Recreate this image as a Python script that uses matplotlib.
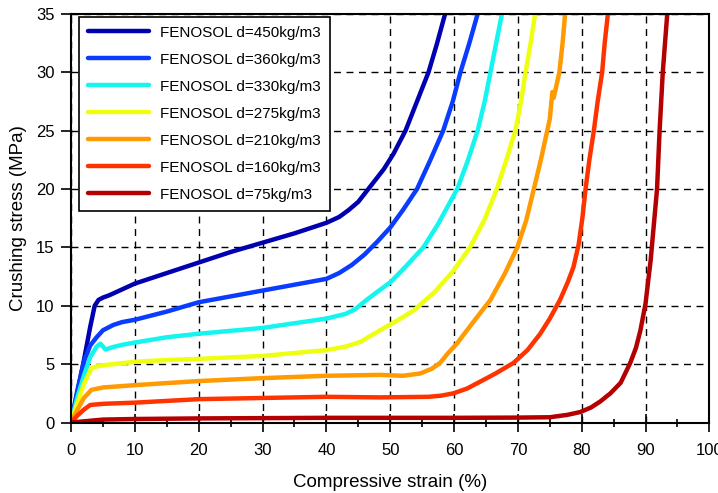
import matplotlib
matplotlib.use('Agg')
import matplotlib.pyplot as plt
from matplotlib.ticker import MultipleLocator

plt.rcParams['font.family'] = ['Liberation Sans', 'DejaVu Sans']

# strain (%) / stress (MPa)
x450 = [0, 1, 2, 3, 3.7, 4.3, 5, 6, 8, 10, 15, 20, 25, 30, 35, 40, 42, 43.5, 45, 47, 49, 50.5,
        52.4, 54.2, 56.0, 57.3, 58.6]
y450 = [0, 2.6, 5.3, 8.2, 10.0, 10.5, 10.7, 10.9, 11.4, 11.9, 12.8, 13.7, 14.6, 15.4, 16.2, 17.1,
        17.6, 18.2, 18.9, 20.3, 21.7, 23.0, 25.0, 27.5, 30.0, 32.4, 35.0]

x360 = [0, 1, 2, 3, 4, 5, 6.6, 8, 10, 15, 20, 25, 30, 35, 40, 42, 44, 46, 48, 50, 52, 54.2, 56.3,
        58.3, 59.8, 61.0, 62.4, 63.7]
y360 = [0, 2.8, 5.2, 6.6, 7.3, 7.9, 8.35, 8.6, 8.8, 9.5, 10.3, 10.8, 11.3, 11.8, 12.3, 12.8, 13.5,
        14.4, 15.5, 16.7, 18.2, 20.0, 22.5, 25.0, 27.5, 30.0, 32.5, 35.0]

x330 = [0, 1, 2, 3, 4, 4.6, 5.4, 6.5, 8, 10, 15, 20, 25, 30, 35, 40, 43, 44.5, 46.3, 48, 50, 52.5,
        55.2, 57.5, 60.5, 62.2, 63.7, 64.8, 65.7, 66.6, 67.5]
y330 = [0, 2.2, 4.0, 5.6, 6.5, 6.75, 6.25, 6.45, 6.65, 6.85, 7.3, 7.6, 7.85, 8.1, 8.5, 8.9, 9.3,
        9.7, 10.5, 11.2, 12.0, 13.4, 15.0, 17.0, 20.0, 22.5, 25.0, 27.5, 30.0, 32.5, 35.0]

x275 = [0, 1, 2, 3.2, 4, 5, 10, 15, 20, 30, 40, 43, 45.3, 48.4, 51, 53.7, 57, 59.9, 62.5, 64.8,
        66.7, 68.2, 69.6, 70.5, 71.2, 72.0, 72.7]
y275 = [0, 1.7, 3.3, 4.65, 4.8, 4.9, 5.2, 5.35, 5.45, 5.7, 6.2, 6.5, 6.9, 7.9, 8.7, 9.6, 11.2,
        13.0, 15.0, 17.4, 20.0, 22.5, 25.0, 27.5, 30.0, 32.5, 35.0]

x210 = [0, 1, 2, 3.2, 5, 10, 20, 30, 40, 48.4, 52, 54.7, 56.5, 57.8, 59, 60.5, 63, 65.7, 68, 69.9,
        71.3, 72.5, 73.6, 74.6, 75.0, 75.4, 75.6, 76.5, 77.0, 77.4]
y210 = [0, 1.1, 2.1, 2.8, 3.0, 3.2, 3.55, 3.8, 4.0, 4.08, 4.0, 4.2, 4.6, 5.1, 5.9, 6.8, 8.6, 10.5,
        12.8, 15.0, 17.3, 20.0, 22.5, 25.0, 26.0, 28.3, 27.8, 30.0, 32.5, 35.0]

x160 = [0, 1, 2, 3.0, 5, 10, 15, 20, 30, 40, 48.4, 56, 58, 59.9, 62, 64.1, 66.5, 69.3, 71.5, 73.5,
        75, 76.6, 77.8, 78.7, 79.5, 80.1, 80.6, 81.2, 81.9, 82.5, 83.2, 83.6, 84.1]
y160 = [0, 0.6, 1.1, 1.5, 1.6, 1.7, 1.85, 2.0, 2.1, 2.2, 2.15, 2.2, 2.3, 2.5, 2.9, 3.5, 4.2, 5.1,
        6.2, 7.6, 8.9, 10.5, 12.0, 13.3, 15.2, 17.5, 20.0, 22.5, 25.0, 27.5, 30.0, 32.5, 35.0]

x75 = [0, 5, 10, 20, 40, 60, 70, 75, 77.7, 79.8, 81.5, 82.9, 84.5, 86.1, 87.6, 88.5, 89.2, 90.0,
       90.8, 91.8, 92.2, 92.7, 93.4]
y75 = [0, 0.25, 0.3, 0.35, 0.4, 0.4, 0.42, 0.45, 0.65, 0.9, 1.3, 1.8, 2.5, 3.4, 5.1, 6.4, 7.9, 10.2,
       13.9, 20.0, 25.0, 30.0, 35.0]

series = [
    ('FENOSOL d=450kg/m3', x450, y450, '#0000b0'),
    ('FENOSOL d=360kg/m3', x360, y360, '#0a3cff'),
    ('FENOSOL d=330kg/m3', x330, y330, '#14f5f0'),
    ('FENOSOL d=275kg/m3', x275, y275, '#eeff10'),
    ('FENOSOL d=210kg/m3', x210, y210, '#ff9a00'),
    ('FENOSOL d=160kg/m3', x160, y160, '#ff3300'),
    ('FENOSOL d=75kg/m3', x75, y75, '#b40000'),
]

fig = plt.figure(figsize=(7.18, 4.93), dpi=100)
ax = fig.add_axes([0.099, 0.143, 0.889, 0.829])

for lab, xs, ys, c in series:
    ax.plot(xs, ys, '-', color=c, linewidth=3.2, label=lab,
            solid_capstyle='round', solid_joinstyle='round')

ax.set_xlim(0, 100)
ax.set_ylim(0, 35)
ax.xaxis.set_major_locator(MultipleLocator(10))
ax.xaxis.set_minor_locator(MultipleLocator(5))
ax.yaxis.set_major_locator(MultipleLocator(5))
ax.tick_params(axis='x', which='major', direction='inout', length=13, width=1.2, pad=8, labelsize=12)
ax.tick_params(axis='x', which='minor', direction='inout', length=6, width=1.2)
ax.tick_params(axis='y', which='major', direction='out', length=7, width=1.2, pad=5, labelsize=12)
ax.grid(True, which='major', color='black', linestyle=(0, (5, 4)), linewidth=1)
ax.set_axisbelow(True)
for s in ax.spines.values():
    s.set_linewidth(1.5)

ax.set_xlabel('Compressive strain (%)', fontsize=13.5, labelpad=12)
ax.set_ylabel('Crushing stress (MPa)', fontsize=13.5, labelpad=6)

leg = ax.legend(loc='upper left', fontsize=11, handlelength=4.0, handletextpad=0.7,
                labelspacing=0.85, borderpad=0.6, borderaxespad=0,
                fancybox=False, framealpha=1, edgecolor='black',
                bbox_to_anchor=(0.0125, 0.993))
leg.get_frame().set_linewidth(1.2)

fig.savefig('out.png', dpi=100)
